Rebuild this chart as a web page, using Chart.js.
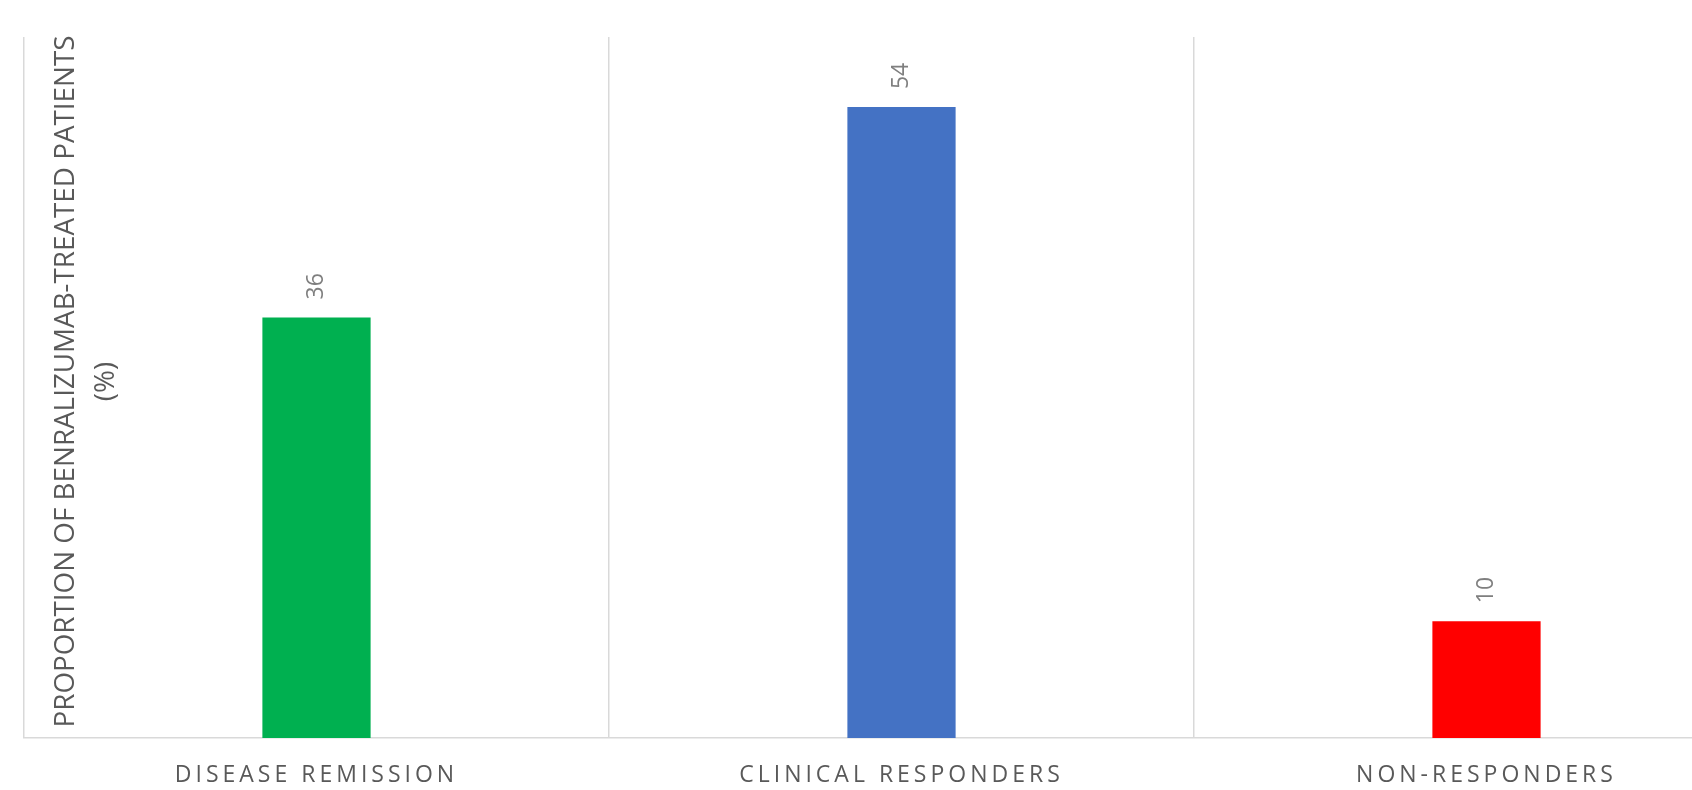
<!DOCTYPE html>
<html>
<head>
<meta charset="utf-8">
<script src="https://cdn.jsdelivr.net/npm/chart.js@4/dist/chart.umd.min.js"></script>
<style>
  html, body { margin: 0; padding: 0; background: #ffffff; overflow: hidden; }
  #wrap { width: 1692px; height: 790px; overflow: hidden; }
  canvas { display: block; }
</style>
</head>
<body>
<div id="wrap"><canvas id="chart" width="1800" height="790"></canvas></div>
<script>
// Response categories and share of benralizumab-treated patients (%)
const categories = ['DISEASE REMISSION', 'CLINICAL RESPONDERS', 'NON-RESPONDERS'];
const proportions = [36, 54, 10];
const barColors = ['#00B050', '#4472C4', '#FF0000'];
const axisTitle = ['PROPORTION OF BENRALIZUMAB-TREATED PATIENTS', '(%)'];

const FONT = "'Open Sans', 'Liberation Sans', sans-serif";
const GRID = '#d9d9d9';

// Category labels are tracked out; everything drawn after them is not.
const letterSpacing = {
  id: 'letterSpacing',
  beforeDraw(chart) { chart.ctx.letterSpacing = '4px'; },
  beforeDatasetsDraw(chart) { chart.ctx.letterSpacing = '0px'; },
  afterDraw(chart) { chart.ctx.letterSpacing = '0px'; }
};

// Value axis title, set just inside the plot area, two rotated lines
const valueAxisTitle = {
  id: 'valueAxisTitle',
  afterDatasetsDraw(chart) {
    const {ctx, chartArea} = chart;
    const lineHeight = 40;
    ctx.save();
    ctx.letterSpacing = '0px';
    ctx.font = `27.8px ${FONT}`;
    ctx.fillStyle = '#595959';
    ctx.translate(chartArea.left + 42, (chartArea.top + chartArea.bottom) / 2 - 6);
    ctx.rotate(-Math.PI / 2);
    ctx.textAlign = 'center';
    ctx.textBaseline = 'middle';
    axisTitle.forEach((line, i) => ctx.fillText(line, 0, i * lineHeight));
    ctx.restore();
  }
};

// Value labels, rotated, sitting just above each bar
const valueLabels = {
  id: 'valueLabels',
  afterDatasetsDraw(chart) {
    const ctx = chart.ctx;
    chart.data.datasets.forEach((ds, di) => {
      const meta = chart.getDatasetMeta(di);
      meta.data.forEach((bar, i) => {
        ctx.save();
        ctx.letterSpacing = '0px';
        ctx.font = `23px ${FONT}`;
        ctx.fillStyle = '#7f7f7f';
        ctx.translate(bar.x, bar.y - 18);
        ctx.rotate(-Math.PI / 2);
        ctx.textAlign = 'left';
        ctx.textBaseline = 'middle';
        ctx.fillText(String(ds.data[i]), 0, 0);
        ctx.restore();
      });
    });
  }
};

new Chart(document.getElementById('chart'), {
  type: 'bar',
  data: {
    labels: categories,
    datasets: [{
      data: proportions,
      backgroundColor: barColors,
      borderWidth: 0,
      categoryPercentage: 1,
      barPercentage: 0.185
    }]
  },
  options: {
    responsive: false,
    animation: false,
    devicePixelRatio: 1,
    layout: { padding: { left: 24, right: 21, top: 37, bottom: 0 } },
    plugins: {
      legend: { display: false },
      tooltip: { enabled: false }
    },
    scales: {
      x: {
        offset: true,
        grid: { display: true, color: GRID, lineWidth: 1.5, drawTicks: false, offset: true },
        border: { display: true, color: GRID, width: 1.5 },
        ticks: {
          color: '#595959',
          font: { family: FONT, size: 23 },
          padding: 24,
          maxRotation: 0,
          autoSkip: false
        },
        afterFit(scale) { scale.height = 52; }
      },
      y: {
        min: 0,
        max: 60,
        grid: { display: false },
        border: { display: false },
        ticks: { display: false },
        afterFit(scale) { scale.width = 0; }
      }
    }
  },
  plugins: [letterSpacing, valueLabels, valueAxisTitle]
});
</script>
</body>
</html>
